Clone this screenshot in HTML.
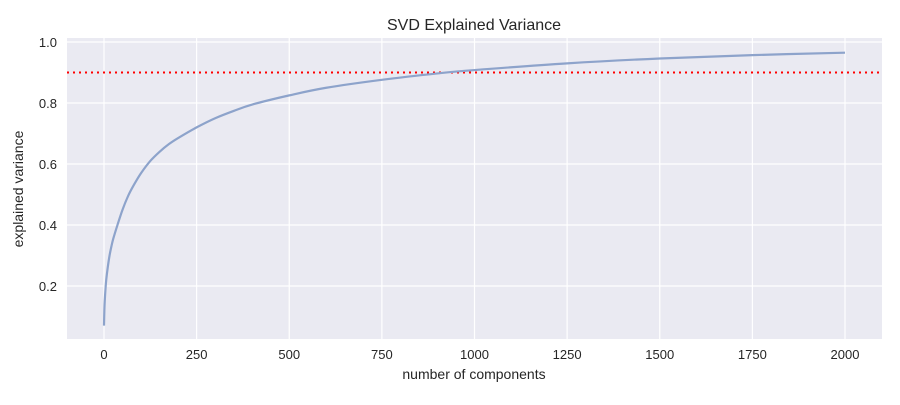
<!DOCTYPE html>
<html><head><meta charset="utf-8"><style>
body{margin:0;background:#fff;font-family:"Liberation Sans",sans-serif}
svg text{font-family:"Liberation Sans",sans-serif;fill:#262626}
</style></head><body>
<svg width="900" height="400" xmlns="http://www.w3.org/2000/svg">
<rect x="67" y="38" width="815" height="301" fill="#eaeaf2"/>
<g id="grid"></g>
<g id="ticks"></g>
<text x="474" y="30" font-size="16" text-anchor="middle">SVD Explained Variance</text>
<text x="474" y="379" font-size="14" text-anchor="middle">number of components</text>
<text x="23" y="189" font-size="14" text-anchor="middle" transform="rotate(-90 23 189)">explained variance</text>
<line id="thresh" stroke="red" stroke-width="2" stroke-dasharray="2,4"/>
<path id="curve" fill="none" stroke="#8da3cb" stroke-width="2.2"/>
</svg>
<script>
const components=[0,1,2,4,6,10,15,20,25,35,50,65,80,100,125,150,175,200,250,300,350,400,500,600,750,900,1000,1250,1500,1750,2000];
const variance=[0.07,0.12,0.15,0.19,0.22,0.26,0.3,0.33,0.355,0.395,0.45,0.495,0.53,0.57,0.61,0.64,0.665,0.685,0.72,0.75,0.774,0.795,0.825,0.85,0.876,0.897,0.908,0.93,0.946,0.957,0.965];
const xTicks=[0,250,500,750,1000,1250,1500,1750,2000];
const yTicks=[0.2,0.4,0.6,0.8,1.0];
const threshold=0.9;
const xs=v=>104+v*(845-104)/2000;
const ys=v=>286-(v-0.2)*(286-42)/0.8;
const NS="http://www.w3.org/2000/svg";
const g=document.getElementById('grid'),t=document.getElementById('ticks');
xTicks.forEach(v=>{
 const l=document.createElementNS(NS,'line');
 l.setAttribute('x1',xs(v));l.setAttribute('x2',xs(v));l.setAttribute('y1',38);l.setAttribute('y2',339);
 l.setAttribute('stroke','#fff');l.setAttribute('stroke-width','1.2');
 
 
 g.appendChild(l);
 const s=document.createElementNS(NS,'text');
 s.setAttribute('x',xs(v));s.setAttribute('y',359);s.setAttribute('font-size','13');s.setAttribute('text-anchor','middle');
 s.textContent=v;
 
 
 t.appendChild(s);
});
yTicks.forEach(v=>{
 const l=document.createElementNS(NS,'line');
 l.setAttribute('x1',67);l.setAttribute('x2',882);l.setAttribute('y1',ys(v));l.setAttribute('y2',ys(v));
 l.setAttribute('stroke','#fff');l.setAttribute('stroke-width','1.2');
 
 
 g.appendChild(l);
 const s=document.createElementNS(NS,'text');
 s.setAttribute('x',57);s.setAttribute('y',ys(v)+5);s.setAttribute('font-size','13');s.setAttribute('text-anchor','end');
 s.textContent=v.toFixed(1);
 
 
 t.appendChild(s);
});
const th=document.getElementById('thresh');
th.setAttribute('x1',67);th.setAttribute('x2',882);th.setAttribute('y1',ys(threshold));th.setAttribute('y2',ys(threshold));
const P=components.map((c,i)=>[xs(c),ys(variance[i])]);
let d='M'+P[0][0]+','+P[0][1];
for(let i=0;i<P.length-1;i++){
 const p0=P[Math.max(0,i-1)],p1=P[i],p2=P[i+1],p3=P[Math.min(P.length-1,i+2)];
 const c1=[p1[0]+(p2[0]-p0[0])/6,p1[1]+(p2[1]-p0[1])/6];
 const c2=[p2[0]-(p3[0]-p1[0])/6,p2[1]-(p3[1]-p1[1])/6];
 d+=' C'+c1.join(',')+' '+c2.join(',')+' '+p2.join(',');
}
document.getElementById('curve').setAttribute('d',d);
</script>
</body></html>
